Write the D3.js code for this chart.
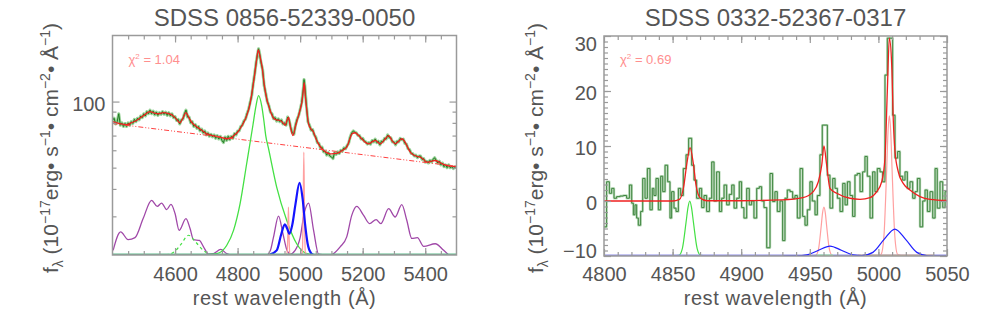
<!DOCTYPE html>
<html>
<head>
<meta charset="utf-8">
<script src="https://cdn.jsdelivr.net/npm/d3@7"></script>
<style>
body { margin: 0; background: #fff; }
text { font-family: "Liberation Sans", Arial, sans-serif; }
</style>
</head>
<body>
<script>
// ---------- left panel : SDSS 0856-52339-0050 (log flux) ----------
var leftTitle = "SDSS 0856-52339-0050";
var leftChi = "1.04";
var leftXLabels = [4600, 4800, 5000, 5200, 5400];
var leftYLabels = [100];
var leftYMinor = [30, 40, 50, 60, 70, 80, 90];

// observed spectrum [wavelength, flux]
var leftData = [[4400,82],[4405,84],[4410,79],[4415,81],[4420,88],[4425,78],[4430,80],[4435,77],[4440,79.5],[4445,77],
[4450,80],[4455,78],[4460,81],[4465,79.5],[4470,83],[4475,81],[4480,84],[4485,82.5],[4490,86],[4495,84.5],
[4500,88],[4505,86],[4510,90],[4515,88],[4520,91.5],[4525,88],[4530,90.5],[4535,87],[4540,89.5],[4545,86.5],
[4550,89],[4555,87.5],[4560,90],[4565,87.5],[4570,89.5],[4575,86.5],[4580,89],[4585,86],[4590,88],[4595,84.5],
[4600,85.5],[4605,82],[4610,83],[4615,79],[4620,82.5],[4625,83],[4630,88],[4635,91.5],[4640,85],[4645,85],
[4650,80],[4655,81],[4660,77],[4665,78.5],[4670,75.5],[4675,77],[4680,73.5],[4685,75],[4690,72],[4695,73.5],
[4700,70.5],[4705,72],[4710,69.5],[4715,71],[4720,69],[4725,70.5],[4730,68],[4735,70],[4740,67.5],[4745,69.5],
[4750,66.5],[4755,65],[4760,69],[4765,66.5],[4770,69.5],[4775,67],[4780,69.5],[4785,68],[4790,71.5],[4795,70.5],
[4800,73.5],[4805,73.5],[4810,77],[4815,78],[4820,81.5],[4825,83],[4830,88],[4835,92],[4840,99],[4845,106],
[4850,121],[4855,135],[4860,153],[4865,168],[4867,174],[4870,167],[4875,150],[4880,140],[4885,118],[4890,109],
[4895,100],[4900,96],[4905,89.5],[4910,88],[4915,83.5],[4920,84.5],[4925,81.5],[4930,83.5],[4935,81],[4940,82.5],
[4945,79],[4950,80],[4955,78],[4960,85],[4965,82],[4970,76],[4975,72],[4980,71],[4985,78],[4990,83],
[4995,86],[5000,92],[5005,99],[5010,114],[5012.5,126],[5015,118],[5020,96],[5025,81],[5030,78],[5035,74],
[5040,74.5],[5045,70.5],[5050,69],[5055,65],[5060,64.5],[5065,61.5],[5070,62],[5075,59],[5080,59.5],[5085,57],
[5090,58.5],[5095,56.5],[5100,56],[5105,55],[5110,58.5],[5115,57.5],[5120,59],[5125,58],[5130,60],[5135,59.5],
[5140,61.5],[5145,61],[5150,63],[5155,64.5],[5160,69],[5165,72],[5170,73.5],[5175,72.5],[5180,72],[5185,70],
[5190,70],[5195,67.5],[5200,68],[5205,66],[5210,65.5],[5215,64],[5220,65],[5225,64],[5230,66.5],[5235,65.5],
[5240,67.5],[5245,65],[5250,66],[5255,63.5],[5260,66],[5265,65.5],[5270,68],[5275,67.5],[5280,70.5],[5285,68.5],
[5290,68.5],[5295,65.5],[5300,65.5],[5305,63.5],[5310,66],[5315,65.5],[5320,68],[5325,67],[5330,67.5],[5335,64.5],
[5340,64],[5345,61],[5350,60.5],[5355,58],[5360,58],[5365,56.5],[5370,57],[5375,55.5],[5380,56.5],[5385,56.5],
[5390,54.5],[5395,55],[5400,53],[5405,53.5],[5410,52.5],[5415,54],[5420,53],[5425,54.5],[5430,55.5],[5435,54],
[5440,52.5],[5445,53.5],[5450,51.5],[5455,52.5],[5460,50.5],[5465,51.5],[5470,50],[5475,51.5],[5480,50],[5485,50.5],
[5490,49.5],[5495,50.5],[5500,50]];

// total model fit
var leftModel = [[4400,81],[4420,79.5],[4445,78.4],[4460,80],[4477,82],[4500,86.5],[4520,90],[4535,88.5],[4547,88],[4563,89],
[4580,88],[4590,87],[4605,83],[4616,80],[4625,84],[4635,89],[4645,84],[4653,80.5],[4665,77.5],[4680,75],
[4700,71.5],[4720,70],[4735,69.3],[4750,68.5],[4765,67.7],[4780,68.5],[4790,70.5],[4800,72.5],[4810,76],[4820,80.5],
[4830,87],[4840,98],[4846,110],[4853,128],[4860,152],[4866,172],[4872,160],[4878,145],[4885,120],[4893,103],
[4900,95],[4915,84],[4925,82.5],[4936,82],[4945,80],[4952,78],[4958,82],[4963,85],[4968,78],[4977,70],
[4985,77],[4995,86.5],[5002,94],[5006,100],[5010,112],[5013,122],[5016,108],[5020,95],[5027,79],[5035,75],
[5043,72.5],[5050,68],[5059,64],[5070,61],[5085,58.5],[5096,57.8],[5110,58],[5120,58.2],[5135,60],[5149,62],
[5158,67],[5166,71.3],[5176,72.1],[5187,70],[5197,67.7],[5210,65],[5219,64.2],[5230,65.5],[5240,66.5],[5250,65],
[5256,64.2],[5270,67],[5283,70],[5295,66],[5304,64.2],[5315,66],[5325,67.7],[5335,65.5],[5341,63.1],[5350,59.5],
[5357,57.8],[5370,56.5],[5384,55.8],[5395,54.5],[5405,53],[5420,53.5],[5432,53.9],[5445,53],[5459,51.7],[5475,51],
[5491,50.7],[5500,50.5]];

var leftContinuum = [[4400,79.4],[5500,50.7]];
var leftHbBroad = [[4680,20],[4733,20.3],[4765,22.1],[4787,25.9],[4808,34.3],[4829,52.1],[4849,78],[4859,95.9],[4867,106.5],
[4877,95.9],[4884,82],[4890,70],[4899,61],[4925,40.8],[4957,28.8],[4989,22.5],[5021,20.3],[5050,20]];
var leftHeII = [[4570,20],[4600,20.8],[4620,22.5],[4643,24.6],[4665,23],[4690,21],[4715,20]];
var leftFeII = [[4402,21],[4426,25.5],[4450,23.5],[4472,24],[4498,29.3],[4525,35.5],[4543,33.3],[4557,34.5],[4573,32.2],[4587,34],
[4600,30.9],[4613,25.9],[4635,29.3],[4648,26.4],[4659,23.5],[4678,23.3],[4691,21.8],[4707,20.2],[4723,20.3],[4746,21.2],
[4765,20.3],[4781,20],[4893,20],[4905,21],[4915,24.2],[4931,30.1],[4945,25],[4958,21],[4968,20.2],[4984,21],
[5000,24],[5013,31],[5027,34.5],[5043,25.9],[5059,20.2],[5096,20],[5128,21.8],[5149,24.2],[5165,30.3],[5181,33.3],
[5203,30.3],[5222,27.8],[5243,29],[5258,27.8],[5283,32.5],[5304,29.8],[5325,33.9],[5341,28.8],[5357,23.8],[5375,24],
[5395,21.9],[5432,22.5],[5459,21],[5475,20]];
var leftOIIIWing = [[4900,20],[4925,21],[4940,25],[4951,27.6],[4958,26.5],[4966,25],[4975,27.5],[4985,34],[4998,42.6],
[5008,36],[5016,27.5],[5024,22.5],[5035,20.4],[5045,20]];
var leftOIIICore = [[4950,20],[4958,20.3],[4960.5,24],[4962.6,33],[4964.7,24],[4967,20.3],[4975,20],
[5000,20],[5007,20.5],[5009.5,30],[5011.8,58.8],[5014,30],[5016.5,20.5],[5025,20]];
var leftBase = [[4400,20],[5500,20]];

// ---------- right panel : SDSS 0332-52367-0317 ----------
var rightTitle = "SDSS 0332-52367-0317";
var rightChi = "0.69";
var rightXLabels = [4800, 4850, 4900, 4950, 5000, 5050];
var rightYLabels = [-10, 0, 10, 20, 30];

// observed spectrum, [bin start, flux]
var rightData = [[4800,-4.7],[4801.9,3.5],[4803.9,1.4],[4805.6,2.3],[4807.3,0.5],[4809.2,0.8],[4811.7,0.9],[4814.1,1.0],[4816.5,0.5],[4818.5,2.9],
[4820.2,-0.4],[4821.4,-2.5],[4822.6,-0.7],[4823.8,-3.1],[4825.0,-4.4],[4826.7,-1.9],[4828.2,4.1],[4829.9,0.5],[4831.6,5.9],[4833.5,-1.6],
[4835.2,2.3],[4836.4,1.0],[4837.9,4.1],[4839.6,-1.6],[4841.3,4.5],[4842.8,1.7],[4844.5,6.5],[4846.4,3.5],[4848.1,-3.1],[4849.3,1.7],
[4851.0,-1.3],[4852.5,-1.9],[4854.2,2.3],[4855.9,1.0],[4857.8,5.9],[4859.8,8.4],[4861.7,11.4],[4863.9,6.5],[4865.6,3.8],[4867.5,0.5],
[4869.5,2.3],[4871.2,-1.2],[4872.9,1.0],[4874.8,-1.9],[4876.8,0.5],[4878.5,7.1],[4880.2,0],[4882.1,5.3],[4884.1,-1.9],[4885.8,0.5],
[4887.5,2.9],[4889.4,-0.7],[4891.3,1.2],[4893.1,2.9],[4894.8,-1.3],[4896.7,0.5],[4898.6,3.5],[4900.3,-1.2],[4902.0,-3.1],[4904.0,2.3],
[4905.9,-0.7],[4907.6,0],[4909.3,-3.1],[4911.3,2.3],[4913.2,2.6],[4914.9,0],[4916.6,-1.2],[4918.6,-8.5],[4921.0,5.0],[4922.9,-0.1],
[4924.6,1.7],[4926.3,-1.9],[4928.3,0],[4930.2,-7.2],[4931.9,0.5],[4933.6,2],[4935.6,1.7],[4937.5,0.5],[4939.2,1.0],[4940.9,-3.1],
[4942.9,5.9],[4944.8,-2.8],[4946.5,-4.4],[4948.2,-1.6],[4950.1,3.5],[4951.8,0],[4953.8,-2.5],[4955.5,1.0],[4957.4,8.4],[4959.1,13.8],
[4961.1,13.8],[4962.8,4.7],[4964.7,-1.3],[4966.7,4.1],[4968.4,2.3],[4970.1,0.5],[4972.0,-1.9],[4974.0,3.2],[4975.7,-0.7],[4977.4,3.5],
[4979.3,1.0],[4981.2,-2.8],[4982.9,4.7],[4984.6,5.0],[4986.6,1.7],[4988.5,5.3],[4990.2,8.1],[4991.9,4.5],[4993.9,-3.1],[4995.8,5.3],
[4997.5,1.7],[4999.2,5.9],[5001.2,5.3],[5003.1,3.5],[5004.8,22.9],[5006.5,29.6],[5008.5,29.6],[5010.4,15.6],[5012.1,7.8],[5014.0,9],
[5015.7,4.5],[5017.7,3.8],[5019.4,5.3],[5021.1,2.3],[5023.0,3.5],[5025.0,0.5],[5026.7,1.7],[5028.4,4.1],[5030.3,-4.7],[5032.3,0],
[5034.0,2.0],[5035.7,-1.9],[5037.6,1.7],[5039.6,-3.1],[5041.3,5.9],[5042.9,-1.3],[5044.9,3.5],[5046.9,-1.2],[5048.6,1.7],[5050,1.7]];

var rightModel = [[4800,0],[4850,0],[4855,0.3],[4858,2.5],[4860.5,7],[4862.7,9.7],[4865,7],[4867,3],[4870,0.6],[4875,0.05],
[4900,0.05],[4930,0.2],[4945,0.6],[4952.5,1.7],[4956.2,3.5],[4958.7,6.5],[4960.3,10],[4962.3,6.5],[4964.7,2.3],[4969.6,1.4],
[4979.3,0.5],[4986.6,0.3],[4993.9,0.6],[4998.8,1.7],[5002.4,3.5],[5004.8,7.8],[5006.5,19.9],[5008,29.6],[5009.7,24.7],[5010.9,14.4],
[5012.1,9],[5014.5,5.3],[5018.1,3.2],[5023,2],[5030.3,0.8],[5037.6,0.3],[5050,0.1]];
var rightHbNarrow = [[4850,-10],[4854.5,-9.9],[4857.1,-8.65],[4859.8,-3.9],[4861.2,-1.2],[4862.5,0],[4863.8,-1.2],[4865.2,-3.9],[4867.9,-8.65],[4870.5,-9.9],[4875,-10]];
var rightOIIICore = [[4950,-10],[4954.3,-9.9],[4956.3,-8.8],[4958.3,-4.6],[4959.3,-2.15],[4960.3,-1.1],[4961.3,-2.15],[4962.3,-4.6],[4964.3,-8.8],[4966.3,-9.9],[4970,-10],
[5000,-10],[5002,-9.7],[5004,-6.5],[5006,5.5],[5007,12.5],[5008,15.5],[5009,12.5],[5010,5.5],[5012,-6.5],[5014,-9.7],[5018,-10]];
var rightOIIIWing = [[4930,-10],[4940,-9.98],[4948,-9.8],[4956,-9.0],[4964.7,-8.2],[4973,-8.95],[4981,-9.77],[4988,-9.92],[4996,-9.34],
[5004,-7.03],[5012,-5.1],[5020,-7.03],[5028,-9.34],[5036,-9.95],[5050,-10]];
var rightBase = [[4800,-10],[5050,-10]];
var rightBaseTan = [[4985,-10],[5040,-10]];
var rightBaseGreen = [[4955,-10],[4967,-10]];

// ---------- drawing ----------
var W = 981, H = 327;
var svg = d3.select("body").append("svg")
  .attr("width", W).attr("height", H)
  .style("display", "block");
svg.append("rect").attr("width", W).attr("height", H).attr("fill", "#fff");

var axisCol = "#9a9a9a", textCol = "#555";

function panel(id, box, xDom, yDom, isLog) {
  var x = d3.scaleLinear().domain(xDom).range([box.x0, box.x1]);
  var y = (isLog ? d3.scaleLog() : d3.scaleLinear()).domain(yDom).range([box.y1, box.y0]);
  svg.append("clipPath").attr("id", id)
    .append("rect").attr("x", box.x0).attr("y", box.y0)
    .attr("width", box.x1 - box.x0).attr("height", box.y1 - box.y0);
  var plot = svg.append("g").attr("clip-path", "url(#" + id + ")");
  return {x: x, y: y, plot: plot, box: box};
}

function drawLine(p, data, col, w, curve, dash, op) {
  var line = d3.line()
    .x(function(d) { return p.x(d[0]); })
    .y(function(d) { return p.y(d[1]); })
    .curve(curve || d3.curveMonotoneX);
  p.plot.append("path")
    .datum(data)
    .attr("d", line)
    .attr("fill", "none")
    .attr("stroke", col)
    .attr("stroke-width", w)
    .attr("stroke-dasharray", dash || null)
    .attr("stroke-opacity", op == null ? 1 : op)
    .attr("stroke-linejoin", "round");
}

function styleAxis(g) {
  g.select(".domain").remove();
  g.selectAll(".tick line").attr("stroke", axisCol).attr("stroke-width", 1.2);
  g.selectAll(".tick text").attr("fill", textCol).attr("font-size", 20)
    .attr("font-family", "Liberation Sans, Arial, sans-serif");
}

function axes(p, xMajor, xMinor, yMajor, yMinor, yFmt, xPad, dyFn) {
  var b = p.box;
  svg.append("g").attr("transform", "translate(0," + b.y1 + ")")
    .call(d3.axisBottom(p.x).tickValues(xMinor).tickSize(-4).tickFormat(""))
    .call(styleAxis);
  svg.append("g").attr("transform", "translate(0," + b.y1 + ")")
    .call(d3.axisBottom(p.x).tickValues(xMajor).tickSizeInner(-7).tickSizeOuter(0)
      .tickPadding(xPad).tickFormat(d3.format("d")))
    .call(styleAxis);
  svg.append("g").attr("transform", "translate(0," + b.y0 + ")")
    .call(d3.axisTop(p.x).tickValues(xMinor).tickSize(-4).tickFormat(""))
    .call(styleAxis);
  svg.append("g").attr("transform", "translate(0," + b.y0 + ")")
    .call(d3.axisTop(p.x).tickValues(xMajor).tickSize(-7).tickFormat(""))
    .call(styleAxis);

  svg.append("g").attr("transform", "translate(" + b.x0 + ",0)")
    .call(d3.axisLeft(p.y).tickValues(yMinor).tickSize(-4).tickFormat(""))
    .call(styleAxis);
  var yl = svg.append("g").attr("transform", "translate(" + b.x0 + ",0)")
    .call(d3.axisLeft(p.y).tickValues(yMajor).tickSizeInner(-7).tickSizeOuter(0)
      .tickPadding(7).tickFormat(yFmt))
    .call(styleAxis);
  yl.selectAll(".tick text").attr("dy", dyFn);
  svg.append("g").attr("transform", "translate(" + b.x1 + ",0)")
    .call(d3.axisRight(p.y).tickValues(yMinor).tickSize(-4).tickFormat(""))
    .call(styleAxis);
  svg.append("g").attr("transform", "translate(" + b.x1 + ",0)")
    .call(d3.axisRight(p.y).tickValues(yMajor).tickSize(-7).tickFormat(""))
    .call(styleAxis);

  svg.append("rect")
    .attr("x", b.x0).attr("y", b.y0)
    .attr("width", b.x1 - b.x0).attr("height", b.y1 - b.y0)
    .attr("fill", "none").attr("stroke", axisCol).attr("stroke-width", 1.5);
}

function labels(p, title, chi, yLabX) {
  var b = p.box, cx = (b.x0 + b.x1) / 2;
  svg.append("text").attr("x", cx).attr("y", 26)
    .attr("text-anchor", "middle").attr("font-size", 24)
    .attr("fill", textCol).text(title);
  svg.append("text").attr("x", cx).attr("y", 305)
    .attr("text-anchor", "middle").attr("font-size", 20)
    .attr("letter-spacing", 0.6)
    .attr("fill", textCol).text("rest wavelength (Å)");

  var t = svg.append("text")
    .attr("transform", "translate(" + yLabX + ",148) rotate(-90)")
    .attr("text-anchor", "middle").attr("font-size", 21).attr("fill", textCol);
  var parts = [["f", 0], ["λ", -1], [" (10", 0], ["−17", 1], ["erg• s", 0], ["−1", 1],
               ["• cm", 0], ["−2", 1], ["• Å", 0], ["−1", 1], [")", 0]];
  var prev = 0;
  parts.forEach(function(q) {
    var off = q[1] === 1 ? -8 : (q[1] === -1 ? 5 : 0);
    t.append("tspan").attr("dy", off - prev)
      .attr("font-size", q[1] === 0 ? 21 : 14).text(q[0]);
    prev = off;
  });

  var c = svg.append("text").attr("x", b.x0 + 16).attr("y", b.y0 + 28)
    .attr("font-size", 13).attr("fill", "#ff8f8f");
  c.append("tspan").text("χ");
  c.append("tspan").attr("dy", -5).attr("font-size", 8).text("2");
  c.append("tspan").attr("dy", 5).text(" = " + chi);
}

// left
var L = panel("clipL", {x0: 112.5, x1: 456.5, y0: 35.5, y1: 255}, [4400, 5500], [20, 200], true);
drawLine(L, leftData, "#7cc47c", 3, d3.curveLinear, null, 0.8);
drawLine(L, leftData, "#1f7a1f", 1, d3.curveLinear);
drawLine(L, leftModel, "#f02020", 1.3);
drawLine(L, leftContinuum, "#ff4040", 1, d3.curveLinear, "5,2,1,2,1,2");
drawLine(L, leftFeII, "#a048a8", 1.3);
drawLine(L, leftHeII, "#44e044", 1.2, null, "3,3");
drawLine(L, leftHbBroad, "#44e044", 1.3);
drawLine(L, leftOIIICore, "#ffa0a0", 1.3);
drawLine(L, leftOIIIWing, "#1414ff", 2.2);
drawLine(L, leftBase, "#5cb88a", 3, d3.curveLinear);
axes(L, leftXLabels, d3.range(4450, 5500, 50), leftYLabels, leftYMinor,
  d3.format("d"), 12,
  function() { return "0.45em"; });
labels(L, leftTitle, leftChi, 58);

// right
var R = panel("clipR", {x0: 604, x1: 947, y0: 36, y1: 256}, [4800, 5050], [-10, 30], false);
drawLine(R, rightData, "#a8d0a8", 2.4, d3.curveStepAfter, null, 0.8);
drawLine(R, rightData, "#3f853f", 1, d3.curveStepAfter);
drawLine(R, rightModel, "#f02020", 1.3);
drawLine(R, rightOIIICore, "#ffa0a0", 1.2);
drawLine(R, rightHbNarrow, "#44e044", 1.2);
drawLine(R, rightBase, "#8c8ce6", 3, d3.curveLinear);
drawLine(R, rightBaseTan, "#d2b48c", 3, d3.curveLinear);
drawLine(R, rightBaseGreen, "#9be89b", 3, d3.curveLinear);
drawLine(R, rightOIIIWing, "#2020ff", 1.2);
axes(R, rightXLabels, d3.range(4810, 5050, 10), rightYLabels, d3.range(-9, 30, 1),
  d3.format("d"), 11,
  function(d) { return d === 30 ? "0.74em" : (d === -10 ? "0.09em" : "0.43em"); });
labels(R, rightTitle, rightChi, 543);
</script>
</body>
</html>
